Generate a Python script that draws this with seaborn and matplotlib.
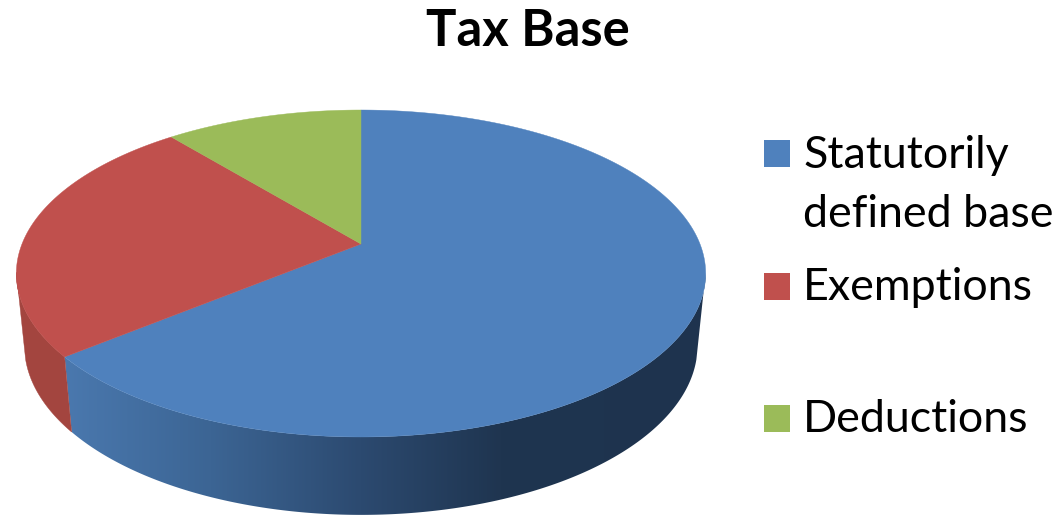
from matplotlib import pyplot as plt
from matplotlib.patches import Polygon, Rectangle
import matplotlib.colors as mcolors
import numpy as np
import seaborn as sns

# values
categories = ['Statutorily\ndefined base', 'Exemptions', 'Deductions']
shares = [64.1, 24.9, 11.0]
title = 'Tax Base'

sns.set_theme(style='white')
plt.rcParams['font.family'] = ['Lato', 'DejaVu Sans']
palette = sns.color_palette(['#4F81BD', '#C0504D', '#9BBB59'])

# Excel style tilted disc: unit circle -> picture pixels, with perspective
CX = 361
PERSP = 0.1804


def top_rim(u, v):
    w = 1 + PERSP * v
    return CX + 339 * u / w, (244 - 114.15 * v) / w


def bottom_rim(u, v):
    w = 1 + PERSP * v
    return CX + 331 * u / w, (315 - 107 * v) / w


fig, ax = plt.subplots(figsize=(10.57, 5.16), dpi=100)
fig.subplots_adjust(0, 0, 1, 1)

# the pie gives the slice angles, the wedges are then redrawn tilted
wedges, _ = ax.pie(shares, startangle=90, counterclock=False, colors=palette)
angles = [(w.theta1, w.theta2) for w in wedges]
for w in wedges:
    w.remove()

# side wall, the blue part gets a horizontal gradient clipped to its outline
shade_x = [66, 210, 360, 500, 706]
shade_rgb = np.array([mcolors.to_rgb(c) for c in ['#4a78ae', '#3c6594', '#2c4a70', '#1f3550', '#1e334e']])
wall_red = '#a3453f'

for i, (t1, t2) in enumerate(angles):
    if t1 >= -10 or t2 <= -170:
        continue
    # the ends of the wall follow the tangent between the two rims
    top_t = np.radians(np.linspace(max(t1, -170), min(t2, -10), 300))
    low_t = np.radians(np.linspace(max(t1, -165), min(t2, -15), 300))[::-1]
    xt, yt = top_rim(np.cos(top_t), np.sin(top_t))
    xb, yb = bottom_rim(np.cos(low_t), np.sin(low_t))
    outline = np.c_[np.r_[xt, xb], np.r_[yt, yb]]
    if i == 0:
        columns = np.arange(40, 730)
        band = np.stack([np.interp(columns, shade_x, shade_rgb[:, c]) for c in range(3)], axis=-1)
        patch = Polygon(outline, closed=True, facecolor='none', edgecolor='none', transform=ax.transData)
        ax.add_patch(patch)
        img = ax.imshow(band[np.newaxis, :, :], extent=(40, 730, 520, 260), aspect='auto', zorder=2)
        img.set_clip_path(patch)
    else:
        ax.fill(outline[:, 0], outline[:, 1], color=wall_red, lw=0.3, zorder=2)

ax.set_aspect('auto')
ax.set_xlim(0, 1057)
ax.set_ylim(516, 0)
ax.axis('off')

# top face
for (t1, t2), col in zip(angles, palette):
    t = np.radians(np.linspace(t1, t2, 300))
    x, y = top_rim(np.r_[0, np.cos(t)], np.r_[0, np.sin(t)])
    ax.fill(x, y, color=col, lw=0.3, zorder=3)

# title and legend
ax.text(527.5, 46, title, fontsize=36.5, fontweight='bold', ha='center', va='baseline', color='black')

legend_top = [140, 273, 405]
legend_base = [168, 300, 432]
for lab, top, base, col in zip(categories, legend_top, legend_base, palette):
    ax.add_patch(Rectangle((764, top), 26, 27, facecolor=col, edgecolor='none', zorder=3))
    lines = lab.split('\n')
    for k, line in enumerate(lines):
        ax.text(803, base + 59 * k, line, fontsize=32.2, ha='left', va='baseline', color='black')

fig.savefig('out.png', dpi=100)
